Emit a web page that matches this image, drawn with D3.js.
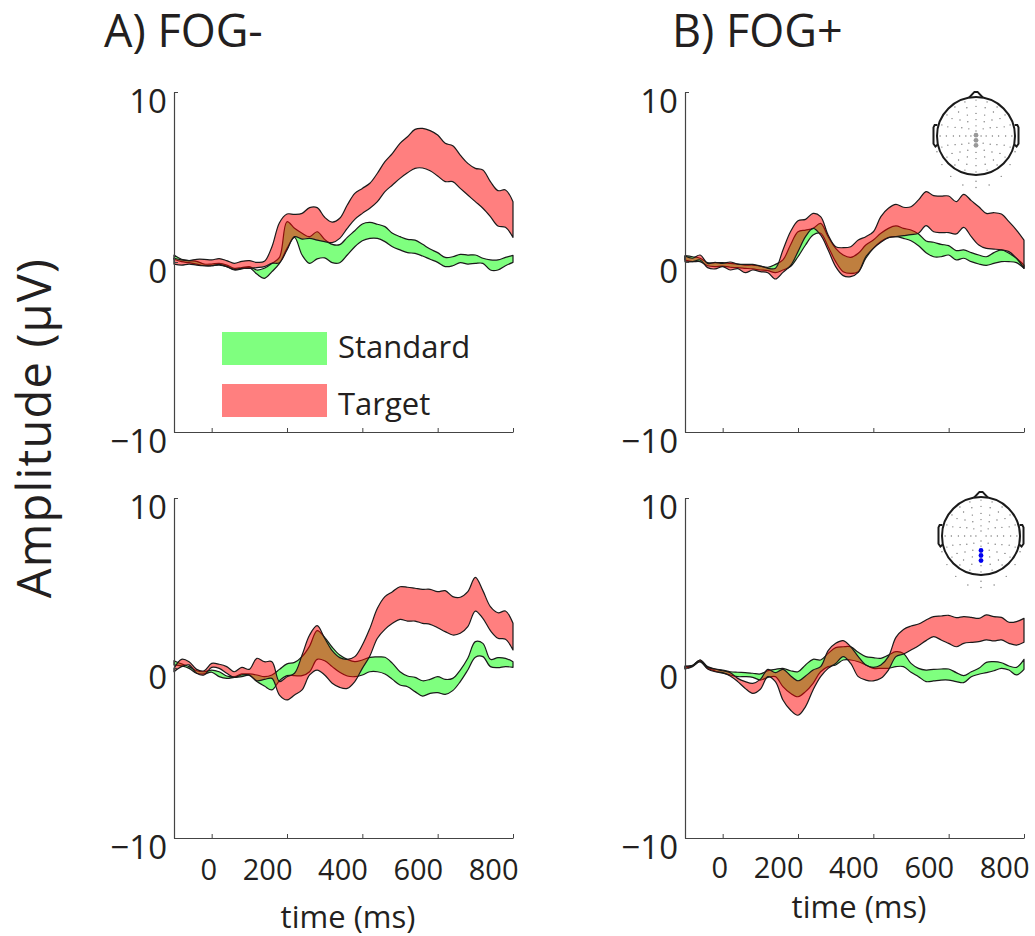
<!DOCTYPE html>
<html>
<head>
<meta charset="utf-8">
<script src="https://cdn.jsdelivr.net/npm/d3@7"></script>
<style>
	body { margin: 0; background: #fff; }
	text { font-family: "Open Sans", sans-serif; fill: #231f20; }
</style>
</head>
<body>
<div id="chart"></div>
<script>
// sample times, ms
const times = d3.range(-100, 801, 20);
const xTicks = [0, 200, 400, 600, 800];
const yTicks = [-10, 0, 10];

// amplitude bands in uV
const aTopStdHi = [.41,.16,.08,.04,-.12,-.12,-.08,-.18,-.37,-.33,-.27,-.47,-.37,-.08,.27,2.37,1.98,1.69,1.49,1.78,1.33,1.04,1.02,1.45,1.84,2.24,2.33,2.22,2.08,1.69,1.49,1.33,1.29,1.04,.76,.55,.27,.31,.45,.41,.41,.22,.12,.12,.27,.39];
const aTopStdLo = [.16,.02,-.04,-.12,-.22,-.22,-.18,-.27,-.47,-.41,-.33,-.71,-.96,-.57,-.08,.8,1.45,.41,-.08,.18,.24,-.04,-.04,.41,.9,1.25,1.39,1.39,1.2,.9,.71,.55,.51,.35,.16,-.02,-.27,-.22,-.04,-.12,-.08,-.08,-.47,-.47,-.22,-.02];
const aTopTgtHi = [.22,.12,.08,.16,.16,.12,.2,.08,-.08,.04,.08,-.02,.04,.9,2.31,2.82,2.8,2.86,3.2,3.2,2.63,2.35,2.57,3.35,4.04,4.33,4.63,5.22,5.9,6.39,6.98,7.37,7.8,7.86,7.73,7.47,6.98,6.84,6.29,5.8,5.51,5.41,4.73,4.2,4.24,3.55];
const aTopTgtLo = [-.12,-.18,-.12,-.18,-.22,-.22,-.14,-.27,-.43,-.37,-.37,-.33,-.27,-.08,-.04,.71,1.49,1.35,1.39,1.29,1.2,1.14,1.39,1.98,2.51,2.86,3.16,3.55,4.14,4.53,4.92,5.25,5.51,5.53,5.37,5.06,4.73,4.73,4.33,3.94,3.55,3.16,2.67,2.12,2.04,1.45];

const bTopStdHi = [.37,.31,.22,-.04,-.04,-.04,-.08,-.12,-.18,-.18,-.24,-.31,-.14,.12,1,1.78,1.88,1.98,2.27,1.49,.8,.41,.27,.51,1,1.29,1.69,1.98,2.12,1.98,1.88,1.65,1.24,1.16,1.04,.96,.67,.71,.55,.41,.31,.55,.71,.51,.22,-.18];
const bTopStdLo = [.12,.02,.02,-.22,-.27,-.24,-.31,-.33,-.37,-.41,-.47,-.51,-.63,-.47,-.27,.31,1,1.59,1.69,.9,.02,-.57,-.67,-.57,.22,.8,1.2,1.43,1.49,1.39,1.25,.96,.55,.31,.31,.41,.12,.22,.02,-.12,-.2,-.08,.02,.02,-.04,-.37];
const bTopTgtHi = [.35,.22,.41,-.08,-.02,-.08,0,-.12,-.14,-.14,-.24,-.37,-.37,.71,1.78,2.43,2.51,2.86,2.67,1.59,.9,.84,.9,1.29,1.49,1.78,2.67,3.16,3.39,3.22,3.25,3.65,4.14,3.9,3.88,3.88,3.55,3.98,3.61,3.25,2.86,2.9,2.82,2.37,1.88,1.29];
const bTopTgtLo = [.02,.02,.12,-.33,-.41,-.27,-.47,-.39,-.63,-.47,-.57,-.63,-1,-.61,-.22,.61,1.49,1.98,1.59,.71,-.27,-.8,-.86,-.61,.31,.8,1.16,1.43,1.49,1.55,1.61,1.69,2.14,1.78,1.73,1.73,1.65,2.04,1.49,1,.8,.76,.71,.61,.22,-.37];

const aBotStdHi = [.43,.24,.08,-.16,-.22,-.12,-.22,-.47,-.51,-.35,-.35,-.41,-.51,-.41,-.08,.24,.33,.67,1.29,2.2,1.8,1.22,.76,.51,.37,.47,.63,.65,.63,.27,-.22,-.47,-.55,-.75,-.67,-.51,-.67,-.61,-.12,.57,1.55,1.45,.51,.61,.57,.37];
const aBotStdLo = [.18,.12,-.02,-.31,-.35,-.25,-.51,-.61,-.55,-.51,-.43,-.8,-1.06,-1.29,-.75,-.45,-.45,-.45,-.22,.51,.43,.08,-.25,-.47,-.51,-.41,-.22,-.22,-.35,-.67,-1,-1.1,-1.39,-1.65,-1.49,-1.45,-1.55,-1.33,-.8,-.12,.63,.67,.08,.02,.08,.04];
const aBotTgtHi = [-.02,.51,.37,-.08,-.16,.27,.22,.08,-.22,.04,-.08,.57,.37,.37,-.8,-.51,-.31,.76,1.94,2.49,1.75,1.02,.61,.51,.67,1.35,2.33,3.51,4.2,4.49,4.78,4.75,4.69,4.63,4.63,4.49,4.55,4.2,4.16,4.49,5.33,4.55,3.61,3.25,3.35,2.63];
const aBotTgtLo = [-.22,.08,.18,-.31,-.41,.04,-.02,-.31,-.55,-.41,-.41,-.75,-.67,-.61,-1.59,-1.88,-1.59,-1.29,-.41,-.12,-.41,-.9,-1.14,-1.2,-.8,-.02,.71,1.75,2.27,2.63,2.86,2.76,2.76,2.63,2.57,2.37,2.14,1.94,2.04,2.43,3.35,2.92,2.2,1.75,1.69,1.06];

const bBotStdHi = [.08,.16,.47,.08,-.06,-.12,-.22,-.25,-.27,-.31,-.35,-.16,-.08,-.02,-.16,-.22,.18,.51,.47,.86,1.2,1.25,1.25,.92,.67,.61,.57,.76,.96,.86,.27,-.02,-.12,-.08,-.06,-.06,-.27,-.45,-.22,-.02,.33,.37,.31,.12,.04,.51];
const bBotStdLo = [-.02,.12,.37,-.02,-.18,-.31,-.41,-.51,-.51,-.55,-.71,-.55,-.51,-1.1,-1.49,-1.69,-1.39,-.9,-.22,.08,.18,.47,.47,.37,.18,-.02,-.02,-.02,.08,.08,-.25,-.51,-.8,-.76,-.71,-.71,-.8,-.86,-.51,-.37,-.27,-.16,-.02,-.12,-.41,-.08];
const bBotTgtHi = [.12,.14,.47,.04,-.06,-.16,-.27,-.61,-.8,-.9,-.67,-.08,-.27,-.08,-.45,-.75,-.47,-.12,.08,1.02,1.45,1.61,1.25,.67,.18,.04,.18,.67,1.8,2.27,2.47,2.59,2.82,3.02,3.06,3.1,2.96,3.02,2.98,2.92,3.12,3.02,2.98,2.69,2.73,2.92];
const bBotTgtLo = [-.06,.08,.37,-.06,-.22,-.27,-.47,-.8,-1.2,-1.49,-1.25,-.51,-.8,-1.88,-2.47,-2.78,-2.27,-1.29,-.51,-.02,.27,.67,.27,-.51,-.71,-.76,-.61,-.12,.67,.82,1.06,1.31,1.61,1.84,1.65,1.45,1.25,1.45,1.51,1.55,1.65,1.59,1.65,1.45,1.35,1.51];

// electrode cap, rings as [radius, number of sites]
const capRings = [[.13, 4], [.26, 8], [.42, 12], [.58, 16], [.76, 20], [.92, 20]];
// sites below the head outline, as [radius, angle in degrees]
const capOuter = [[1.08, 112], [1.08, -112], [1.14, 130], [1.14, -130], [1.22, 148], [1.22, -148], [1.3, 165], [1.3, -165], [1.16, 180], [1.32, 180]];

const legendNames = ["Standard", "Target"];
const stdColor = "rgb(0,255,0)";
const tgtColor = "rgb(255,0,0)";

const svg = d3.select("#chart").append("svg")
	.attr("width", 1035)
	.attr("height", 936);

function drawPanel(p) {
	let x = d3.scaleLinear().domain([-100, 800]).range([p.left, p.left + 339]);
	let y = d3.scaleLinear().domain([-10, 10]).range([p.top + 340, p.top]);
	let g = svg.append("g");

	let band = d3.area()
		.x((d, i) => x(times[i]))
		.y0(d => y(d[1]))
		.y1(d => y(d[0]))
		.curve(d3.curveCatmullRom.alpha(0.5));

	[[p.stdHi, p.stdLo, stdColor], [p.tgtHi, p.tgtLo, tgtColor]].forEach(s => {
		let rows = s[0].map((v, i) => [v, s[1][i]]);
		g.append("path")
			.attr("d", band(rows))
			.attr("fill", s[2])
			.attr("fill-opacity", 0.5)
			.attr("stroke", "#1a1a1a")
			.attr("stroke-width", 1.2)
			.attr("stroke-linejoin", "round");
	});

	let xAxis = g.append("g")
		.attr("transform", `translate(0,${p.top + 340})`)
		.call(d3.axisBottom(x).tickValues(xTicks).tickSize(-4).tickSizeOuter(0));
	let yAxis = g.append("g")
		.attr("transform", `translate(${p.left},0)`)
		.call(d3.axisLeft(y).tickValues(yTicks).tickSize(-4).tickSizeOuter(0)
			.tickFormat(d => d < 0 ? "\u2212" + Math.abs(d) : d));

	g.selectAll(".domain").attr("stroke", "#444").attr("stroke-width", 1.2);
	g.selectAll(".tick line").attr("stroke", "#444");

	yAxis.selectAll("text")
		.attr("x", -7)
		.attr("y", 20)
		.attr("dy", 0)
		.style("font-size", "33px")
		.attr("text-anchor", "end");

	if (p.showX) {
		xAxis.selectAll("text")
			.attr("text-anchor", "end")
			.attr("x", 5)
			.attr("y", p.tickY)
			.attr("dy", 0)
			.style("font-size", "29px");
		svg.append("text")
			.attr("x", p.left + 174)
			.attr("y", p.labelY)
			.attr("text-anchor", "middle")
			.style("font-size", "31px")
			.text("time (ms)");
	} else {
		xAxis.selectAll("text").remove();
	}
}

function drawHead(cx, cy, r, first, color) {
	let sx = d3.scaleLinear().domain([-1, 1]).range([cx - r, cx + r]);
	let sy = d3.scaleLinear().domain([-1, 1]).range([cy + r, cy - r]);
	let g = svg.append("g").attr("fill", "none").attr("stroke", "#1a1a1a").attr("stroke-width", 2);

	let line = d3.line().x(d => sx(d[0])).y(d => sy(d[1])).curve(d3.curveLinear);
	g.append("path").attr("d", line([[-.18, .98], [-.04, 1.13], [.04, 1.13], [.18, .98]]));
	[-1, 1].forEach(k => {
		g.append("path").attr("d", line([[k * .99, .28], [k * 1.06, .28], [k * 1.09, .22], [k * 1.09, -.2], [k * 1.04, -.27], [k * .98, -.22]]));
	});
	g.append("circle").attr("cx", cx).attr("cy", cy).attr("r", r).attr("fill", "#fff");

	capRings.forEach(ring => {
		d3.range(ring[1]).forEach(i => {
			let a = i / ring[1] * 2 * Math.PI;
			svg.append("circle")
				.attr("cx", sx(ring[0] * Math.sin(a)))
				.attr("cy", sy(ring[0] * Math.cos(a)))
				.attr("r", 0.7)
				.attr("fill", "#777");
		});
	});
	capOuter.forEach(site => {
		let a = site[1] * Math.PI / 180;
		svg.append("circle")
			.attr("cx", sx(site[0] * Math.sin(a)))
			.attr("cy", sy(site[0] * Math.cos(a)))
			.attr("r", 0.7)
			.attr("fill", "#777");
	});

	[0, 1, 2].forEach(i => {
		svg.append("circle")
			.attr("cx", sx(0))
			.attr("cy", sy(first - i * 0.13))
			.attr("r", 2.4)
			.attr("fill", color);
	});
}

drawPanel({left: 174, top: 92, stdHi: aTopStdHi, stdLo: aTopStdLo, tgtHi: aTopTgtHi, tgtLo: aTopTgtLo, showX: false});
drawPanel({left: 685, top: 92, stdHi: bTopStdHi, stdLo: bTopStdLo, tgtHi: bTopTgtHi, tgtLo: bTopTgtLo, showX: false});
drawPanel({left: 174, top: 498, stdHi: aBotStdHi, stdLo: aBotStdLo, tgtHi: aBotTgtHi, tgtLo: aBotTgtLo, showX: true, tickY: 42, labelY: 928});
drawPanel({left: 685, top: 498, stdHi: bBotStdHi, stdLo: bBotStdLo, tgtHi: bBotTgtHi, tgtLo: bBotTgtLo, showX: true, tickY: 40, labelY: 918});

drawHead(976, 136, 39, 0.02, "#999");
drawHead(981, 536, 39, -0.37, "#0000f0");

// legend
legendNames.forEach((name, i) => {
	svg.append("rect")
		.attr("x", 222)
		.attr("y", i === 0 ? 332 : 384)
		.attr("width", 105)
		.attr("height", 33)
		.attr("fill", i === 0 ? stdColor : tgtColor)
		.attr("fill-opacity", 0.5);
	svg.append("text")
		.attr("x", 338)
		.attr("y", i === 0 ? 358 : 415)
		.style("font-size", "31px")
		.text(name);
});

svg.append("text").attr("x", 104).attr("y", 47).style("font-size", "45px").text("A) FOG-");
svg.append("text").attr("x", 672).attr("y", 47).style("font-size", "45px").text("B) FOG+");
svg.append("text")
	.attr("transform", "translate(51,428) rotate(-90)")
	.attr("text-anchor", "middle")
	.style("font-size", "47px")
	.style("letter-spacing", "1.2px")
	.text("Amplitude (µV)");
</script>
</body>
</html>
